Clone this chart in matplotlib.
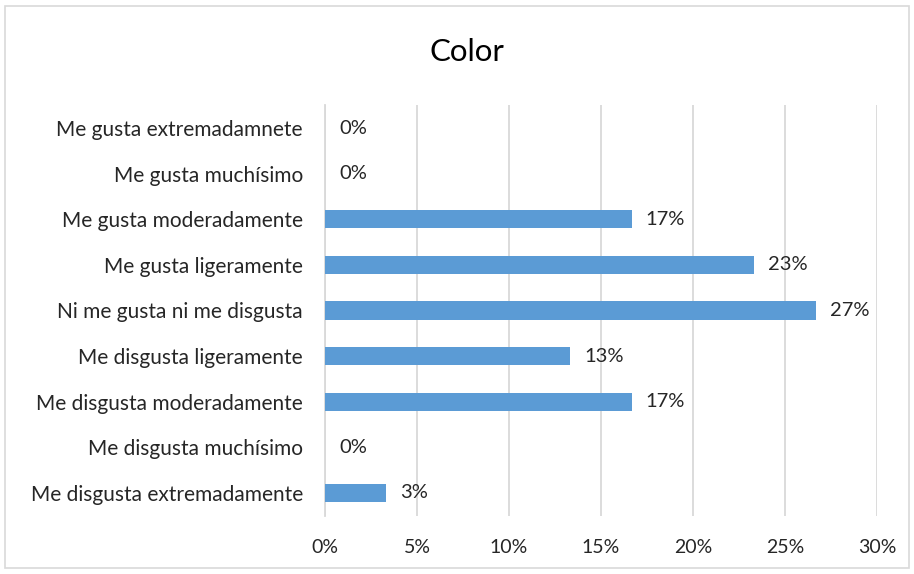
import matplotlib.pyplot as plt
from matplotlib.patches import Rectangle

# survey answers for "Color" (share of respondents)
categories = [
    "Me disgusta extremadamente",
    "Me disgusta muchísimo",
    "Me disgusta moderadamente",
    "Me disgusta ligeramente",
    "Ni me gusta ni me disgusta",
    "Me gusta ligeramente",
    "Me gusta moderadamente",
    "Me gusta muchísimo",
    "Me gusta extremadamnete",
]
shares = [1 / 30, 0, 5 / 30, 4 / 30, 8 / 30, 7 / 30, 5 / 30, 0, 0]
bar_labels = ["3%", "0%", "17%", "13%", "27%", "23%", "17%", "0%", "0%"]
xticks = [0, 0.05, 0.10, 0.15, 0.20, 0.25, 0.30]
xtick_labels = ["0%", "5%", "10%", "15%", "20%", "25%", "30%"]

plt.rcParams["font.family"] = ["Lato", "DejaVu Sans"]

fig = plt.figure(figsize=(9.14, 5.74), dpi=100)
ax = fig.add_axes([0.3556, 0.1015, 0.6039, 0.7152])

ypos = list(range(len(categories)))
ax.barh(ypos, shares, height=0.4, color="#5B9BD5", zorder=3)

for y, v, lab in zip(ypos, shares, bar_labels):
    ax.annotate(lab, (v, y), xytext=(10, 0), textcoords="offset points",
                va="center", ha="left", fontsize=14.5, color="#262626")

ax.set_xlim(0, 0.30)
ax.set_ylim(-0.5, len(categories) - 0.5)
ax.set_xticks(xticks)
ax.set_xticklabels(xtick_labels, fontsize=14, color="#262626")
ax.set_yticks(ypos)
ax.set_yticklabels(categories, fontsize=15, color="#262626")
ax.tick_params(axis="x", length=0, pad=17)
ax.tick_params(axis="y", length=0, pad=16)

ax.grid(axis="x", color="#D9D9D9", linewidth=1.3, zorder=0)
for s in ["top", "right", "bottom"]:
    ax.spines[s].set_visible(False)
ax.spines["left"].set_color("#D9D9D9")
ax.spines["left"].set_linewidth(1.3)

fig.text(0.511, 0.91, "Color", ha="center", va="center", fontsize=22.5, color="#000000")

# chart border
fig.patches.append(Rectangle((0.006, 0.01), 0.988, 0.98, transform=fig.transFigure,
                             fill=False, edgecolor="#D9D9D9", linewidth=1.2))

fig.savefig("out.png", dpi=100)
